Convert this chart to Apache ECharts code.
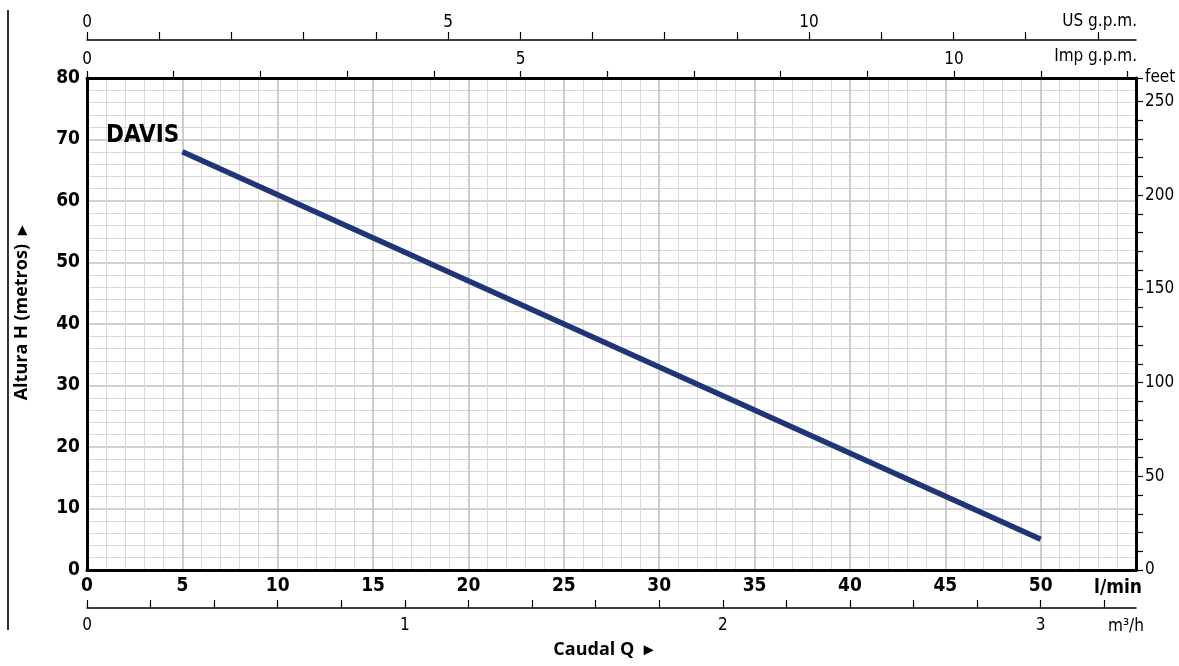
<!DOCTYPE html>
<html>
<head>
<meta charset="utf-8">
<script src="https://cdn.jsdelivr.net/npm/echarts@6/dist/echarts.min.js"></script>
<style>
html,body{margin:0;padding:0;background:#fff;}
#c{width:1179px;height:666px;}
</style>
</head>
<body>
<div id="c"></div>
<script>
// ---- data ----
const flowLmin = [5, 50];          // l/min
const headM = [68, 5];             // metres
const seriesName = 'DAVIS';
const xMain = { min: 0, max: 55, step: 5 };
const yMain = { min: 0, max: 80, step: 10 };
const usTicks = [0,1,2,3,4,5,6,7,8,9,10,11,12,13,14];
const usLabels = [0,5,10];
const impTicks = [0,1,2,3,4,5,6,7,8,9,10,11,12];
const impLabels = [0,5,10];
const m3hTicks = [0,0.2,0.4,0.6,0.8,1,1.2,1.4,1.6,1.8,2,2.2,2.4,2.6,2.8,3,3.2];
const m3hLabels = [0,1,2,3];
const feetTicks = [0,10,20,30,40,50,60,70,80,90,100,110,120,130,140,150,160,170,180,190,200,210,220,230,240,250];
const feetLabels = [0,50,100,150,200,250];

// unit conversions
const L_PER_USGAL = 3.78541, L_PER_IMPGAL = 4.54609, M_PER_FT = 0.3048;
const usMax = xMain.max / L_PER_USGAL;
const impMax = xMain.max / L_PER_IMPGAL;
const m3hMax = xMain.max * 60 / 1000;
const feetMax = yMain.max / M_PER_FT;

const COND = "'Liberation Sans Narrow','DejaVu Sans Condensed','Arial Narrow',sans-serif";
const BOLD = "'Open Sans','Noto Sans',sans-serif";

const chart = echarts.init(document.getElementById('c'), null, {renderer:'canvas'});
const data = flowLmin.map((x,i)=>[x, headM[i]]);

const option = {
  backgroundColor: '#fff',
  animation: false,
  grid: { left: 87, right: 43, top: 78, bottom: 96, containLabel: false },
  xAxis: [
    { type:'value', min:xMain.min, max:xMain.max, interval:xMain.step, position:'bottom',
      axisLine:{show:true, onZero:false, lineStyle:{color:'#000', width:3}},
      axisTick:{show:false},
      axisLabel:{color:'#000', fontFamily:COND, fontWeight:'bold', fontSize:19, margin:7,
        formatter: v => v > 50 ? '' : String(v)},
      splitLine:{show:true, lineStyle:{color:'#c2c2c2', width:1.6}},
      minorTick:{show:false, splitNumber:5},
      minorSplitLine:{show:true, lineStyle:{color:'#d9d9d9', width:1}},
      z: 5 },
    { type:'value', min:0, max:usMax, position:'top', offset:38,
      axisLine:{show:true, onZero:false, lineStyle:{color:'#000', width:1.5}},
      axisTick:{show:true, length:8, customValues:usTicks, lineStyle:{color:'#000', width:1.2}},
      axisLabel:{customValues:usLabels, color:'#000', fontFamily:COND, fontSize:17, margin:9},
      splitLine:{show:false} },
    { type:'value', min:0, max:impMax, position:'top', offset:0,
      axisLine:{show:true, onZero:false, lineStyle:{color:'#000', width:3}},
      axisTick:{show:true, length:7, customValues:impTicks, lineStyle:{color:'#000', width:1.2}},
      axisLabel:{customValues:impLabels, color:'#000', fontFamily:COND, fontSize:17, margin:10},
      splitLine:{show:false}, z: 5 },
    { type:'value', min:0, max:m3hMax, position:'bottom', offset:38,
      axisLine:{show:true, onZero:false, lineStyle:{color:'#000', width:1.5}},
      axisTick:{show:true, inside:true, length:8, customValues:m3hTicks, lineStyle:{color:'#000', width:1.2}},
      axisLabel:{customValues:m3hLabels, color:'#000', fontFamily:COND, fontSize:17, margin:9},
      splitLine:{show:false} }
  ],
  yAxis: [
    { type:'value', min:yMain.min, max:yMain.max, interval:yMain.step, position:'left',
      axisLine:{show:true, onZero:false, lineStyle:{color:'#000', width:3}},
      axisTick:{show:false},
      axisLabel:{color:'#000', fontFamily:COND, fontWeight:'bold', fontSize:19, margin:7},
      splitLine:{show:true, lineStyle:{color:'#c2c2c2', width:1.6}},
      minorTick:{show:false, splitNumber:5},
      minorSplitLine:{show:true, lineStyle:{color:'#d9d9d9', width:1}},
      z: 5 },
    { type:'value', min:0, max:feetMax, position:'right',
      axisLine:{show:true, onZero:false, lineStyle:{color:'#000', width:3}},
      axisTick:{show:true, length:7, customValues:feetTicks.concat([feetMax]), lineStyle:{color:'#000', width:1.2}},
      axisLabel:{customValues:feetLabels.concat([feetMax]), color:'#000', fontFamily:COND, fontSize:17, margin:9,
        formatter: v => v > 255 ? 'feet' : String(v)},
      splitLine:{show:false}, z: 5 }
  ],
  series: [
    { name: seriesName, type:'line', xAxisIndex:0, yAxisIndex:0, data:data,
      symbol:'none', lineStyle:{color:'#1f3577', width:5.5, cap:'butt'}, z: 10,
      markPoint:{ symbol:'circle', symbolSize:0,
        data:[{coord:data[0], name:seriesName}],
        label:{show:true, formatter: seriesName, position:'left', offset:[2,-16],
          color:'#000', fontFamily:COND, fontWeight:'bold', fontSize:24} } }
  ],
  graphic: [
    { type:'line', shape:{x1:8, y1:10, x2:8, y2:630}, style:{stroke:'#333', lineWidth:2} },
    { type:'text', x:1137, y:22, style:{text:'US g.p.m.', font:"17px "+COND, fill:'#000', textAlign:'right', textVerticalAlign:'middle'} },
    { type:'text', x:1137, y:57, style:{text:'Imp g.p.m.', font:"17px "+COND, fill:'#000', textAlign:'right', textVerticalAlign:'middle'} },
    { type:'text', x:1118, y:588, style:{text:'l/min', font:"bold 19px "+COND, fill:'#000', textAlign:'center', textVerticalAlign:'middle'} },
    { type:'text', x:1126, y:627, style:{text:'m³/h', font:"17px "+COND, fill:'#000', textAlign:'center', textVerticalAlign:'middle'} },
    { type:'text', x:603, y:650, style:{text:'Caudal Q  ▸', font:"bold 18px "+BOLD, fill:'#000', textAlign:'center', textVerticalAlign:'middle'} },
    { type:'text', x:22, y:313, rotation:Math.PI/2, style:{text:'Altura H (metros)  ▸', font:"bold 18px "+BOLD, fill:'#000', textAlign:'center', textVerticalAlign:'middle'} }
  ]
};
chart.setOption(option);
</script>
</body>
</html>
